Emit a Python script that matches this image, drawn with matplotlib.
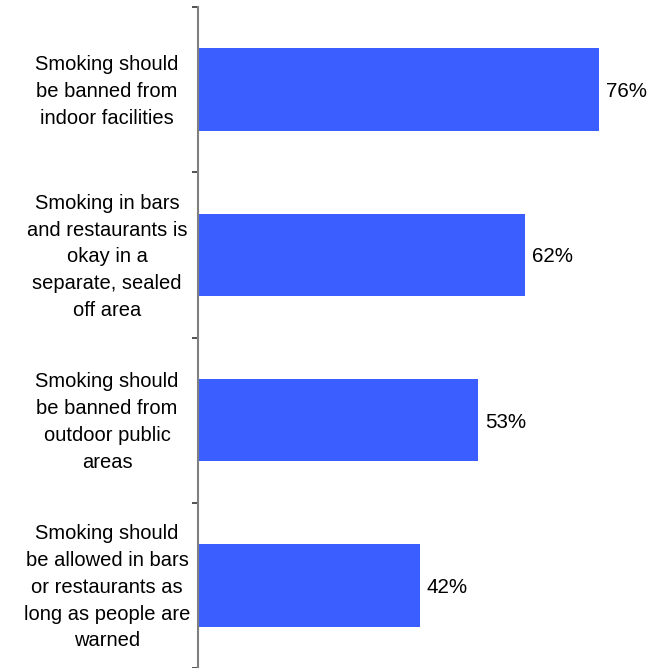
import matplotlib.pyplot as plt
import matplotlib.transforms as mtransforms

labels = ['Smoking should\nbe banned from\nindoor facilities',
          'Smoking in bars\nand restaurants is\nokay in a\nseparate, sealed\noff area',
          'Smoking should\nbe banned from\noutdoor public\nareas',
          'Smoking should\nbe allowed in bars\nor restaurants as\nlong as people are\nwarned']
values = [76, 62, 53, 42]

plt.rcParams['font.family'] = ['Liberation Sans', 'DejaVu Sans']

fig = plt.figure(figsize=(6.48, 6.68), dpi=100)
ax = fig.add_axes([198/648, 0, 450/648, 661/668])

pos = list(range(len(values)))
bars = ax.barh(pos, values, height=0.5, color='#3A5EFF')
ax.set_ylim(len(values) - 0.5, -0.5)
ax.set_xlim(0, 450/5.28)

# small downward nudge so text sits like the original
shift = mtransforms.ScaledTranslation(0, -2/100, fig.dpi_scale_trans)

for b, v in zip(bars, values):
    ax.text(v, b.get_y() + b.get_height() / 2, f'{v}%', ha='left', va='center',
            fontsize=14.8, transform=ax.transData + shift +
            mtransforms.ScaledTranslation(7/100, 0, fig.dpi_scale_trans))

ax.set_xticks([])
ax.set_yticks([])
ax.set_yticks([i - 0.5 for i in range(len(values) + 1)], minor=True)
ax.tick_params(axis='y', which='minor', length=4.5, width=1.2, color='#333333',
               labelleft=False)

for s in ['top', 'right', 'bottom']:
    ax.spines[s].set_visible(False)
ax.spines['left'].set_color('#808080')
ax.spines['left'].set_linewidth(1.5)

trans = mtransforms.blended_transform_factory(fig.transFigure, ax.transData)
for i, lab in enumerate(labels):
    ax.text(107/648, i, lab, transform=trans + shift, ha='center', va='center',
            fontsize=14.5, linespacing=1.52)

fig.savefig('out.png', dpi=100)
